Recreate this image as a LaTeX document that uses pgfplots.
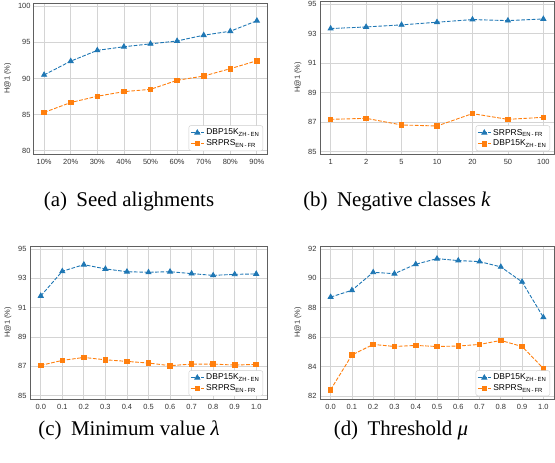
\documentclass[border=0pt]{standalone}
\usepackage{pgfplots}
\pgfplotsset{compat=1.18}
\usepackage{fontspec}
\setmainfont{Liberation Serif}
\newfontfamily\tickfont{Liberation Sans}
\definecolor{c1}{HTML}{1F77B4}
\definecolor{c2}{HTML}{FF7F0E}
\definecolor{framec}{HTML}{606060}
\definecolor{gridc}{HTML}{D4D4D4}
\definecolor{tickc}{HTML}{333333}
\definecolor{legc}{HTML}{CCCCCC}
\pgfplotsset{
  panel/.style={
    scale only axis, anchor=north west,
    axis line style={draw=framec, line width=1bp},
    grid=major, grid style={draw=gridc, line width=0.8bp},
    tick style={draw=none},
    tick label style={font=\tickfont\fontsize{7.5}{9}\selectfont, text=tickc},
    xticklabel style={yshift=-1.5bp},
    /pgf/number format/assume math mode=true,
    ylabel={H@1 (\%)},
    ylabel style={font=\tickfont\fontsize{7.5}{9}\selectfont, text=tickc},
    legend style={at={(1,0)}, anchor=south east, xshift=-4bp, yshift=3bp,
      draw=legc, rounded corners=2bp, font=\tickfont\fontsize{8.5}{10}\selectfont,
      inner sep=1.5bp, row sep=-0.5bp, cells={anchor=west}},
    legend image code/.code={
      \draw[##1, mark=none] (0bp,0bp) -- (13bp,0bp);
      \draw[##1, solid] plot coordinates {(6.5bp,0bp)};},
  },
  s1/.style={color=c1, mark=triangle*, mark size=2.8bp, line width=0.9bp,
    dash pattern=on 3.7bp off 1.6bp, mark options={solid}},
  s2/.style={color=c2, mark=square*, mark size=2.3bp, line width=0.9bp,
    dash pattern=on 3.7bp off 1.6bp, mark options={solid}},
}
\begin{document}
\begin{tikzpicture}
\path[use as bounding box] (0,0) rectangle (555bp,-463bp);

% (a) seed alignments
\begin{axis}[panel, at={(34bp,-3bp)}, width=233bp, height=151bp,
  xmin=0.62, xmax=9.38, ymin=79.54, ymax=100.46,
  xtick={1,...,9}, xticklabels={10\%,20\%,30\%,40\%,50\%,60\%,70\%,80\%,90\%},
  ytick={80,85,90,95,100}]
\addplot[s1] coordinates {(1,90.5) (2,92.4) (3,93.9) (4,94.4) (5,94.8) (6,95.2) (7,96.0) (8,96.55) (9,98.0)};
\addlegendentry{DBP15K\textsubscript{ZH\,-\,EN}}
\addplot[s2] coordinates {(1,85.3) (2,86.67) (3,87.54) (4,88.18) (5,88.5) (6,89.75) (7,90.34) (8,91.36) (9,92.46)};
\addlegendentry{SRPRS\textsubscript{EN\,-\,FR}}
\end{axis}

% (b) negative classes
\begin{axis}[panel, at={(320bp,-1bp)}, width=234bp, height=153bp,
  xmin=-0.3, xmax=6.3, ymin=84.84, ymax=95.22,
  xtick={0,...,6}, xticklabels={1,2,5,10,20,50,100},
  ytick={85,87,89,91,93,95}]
\addplot[s1] coordinates {(0,93.35) (1,93.46) (2,93.6) (3,93.78) (4,93.96) (5,93.89) (6,94.0)};
\addlegendentry{SRPRS\textsubscript{EN\,-\,FR}}
\addplot[s2] coordinates {(0,87.19) (1,87.26) (2,86.81) (3,86.74) (4,87.58) (5,87.19) (6,87.33)};
\addlegendentry{DBP15K\textsubscript{ZH\,-\,EN}}
\end{axis}

% (c) minimum value
\begin{axis}[panel, at={(30bp,-246bp)}, width=237bp, height=153bp,
  xmin=-0.05, xmax=1.05, ymin=84.78, ymax=95.2,
  xtick={0,0.1,...,1.0},
  xticklabel style={/pgf/number format/.cd, fixed, fixed zerofill, precision=1},
  ytick={85,87,89,91,93,95}]
\addplot[s1] coordinates {(0,91.8) (0.1,93.48) (0.2,93.93) (0.3,93.64) (0.4,93.45) (0.5,93.41) (0.6,93.45) (0.7,93.32) (0.8,93.2) (0.9,93.27) (1.0,93.3)};
\addlegendentry{DBP15K\textsubscript{ZH\,-\,EN}}
\addplot[s2] coordinates {(0,87.07) (0.1,87.41) (0.2,87.61) (0.3,87.45) (0.4,87.34) (0.5,87.23) (0.6,87.05) (0.7,87.16) (0.8,87.16) (0.9,87.09) (1.0,87.14)};
\addlegendentry{SRPRS\textsubscript{EN\,-\,FR}}
\end{axis}

% (d) threshold
\begin{axis}[panel, at={(320bp,-246bp)}, width=234bp, height=153bp,
  xmin=-0.05, xmax=1.05, ymin=81.8, ymax=92.2,
  xtick={0,0.1,...,1.0},
  xticklabel style={/pgf/number format/.cd, fixed, fixed zerofill, precision=1},
  ytick={82,84,86,88,90,92}]
\addplot[s1] coordinates {(0,88.73) (0.1,89.19) (0.2,90.41) (0.3,90.32) (0.4,90.96) (0.5,91.34) (0.6,91.21) (0.7,91.14) (0.8,90.78) (0.9,89.76) (1.0,87.35)};
\addlegendentry{DBP15K\textsubscript{ZH\,-\,EN}}
\addplot[s2] coordinates {(0,82.43) (0.1,84.79) (0.2,85.51) (0.3,85.37) (0.4,85.44) (0.5,85.37) (0.6,85.4) (0.7,85.51) (0.8,85.78) (0.9,85.37) (1.0,83.88)};
\addlegendentry{SRPRS\textsubscript{EN\,-\,FR}}
\end{axis}

\node[anchor=base, font=\fontsize{21}{25}\selectfont] at (129bp,-206bp) {(a)\hspace{0.45em}Seed alighments};
\node[anchor=base, font=\fontsize{21}{25}\selectfont] at (397bp,-206bp) {(b)\hspace{0.45em}Negative classes \textit{k}};
\node[anchor=base, font=\fontsize{21}{25}\selectfont] at (129bp,-435bp) {(c)\hspace{0.45em}Minimum value \textit{λ}};
\node[anchor=base, font=\fontsize{21}{25}\selectfont] at (401bp,-435bp) {(d)\hspace{0.45em}Threshold \textit{μ}};
\end{tikzpicture}
\end{document}
